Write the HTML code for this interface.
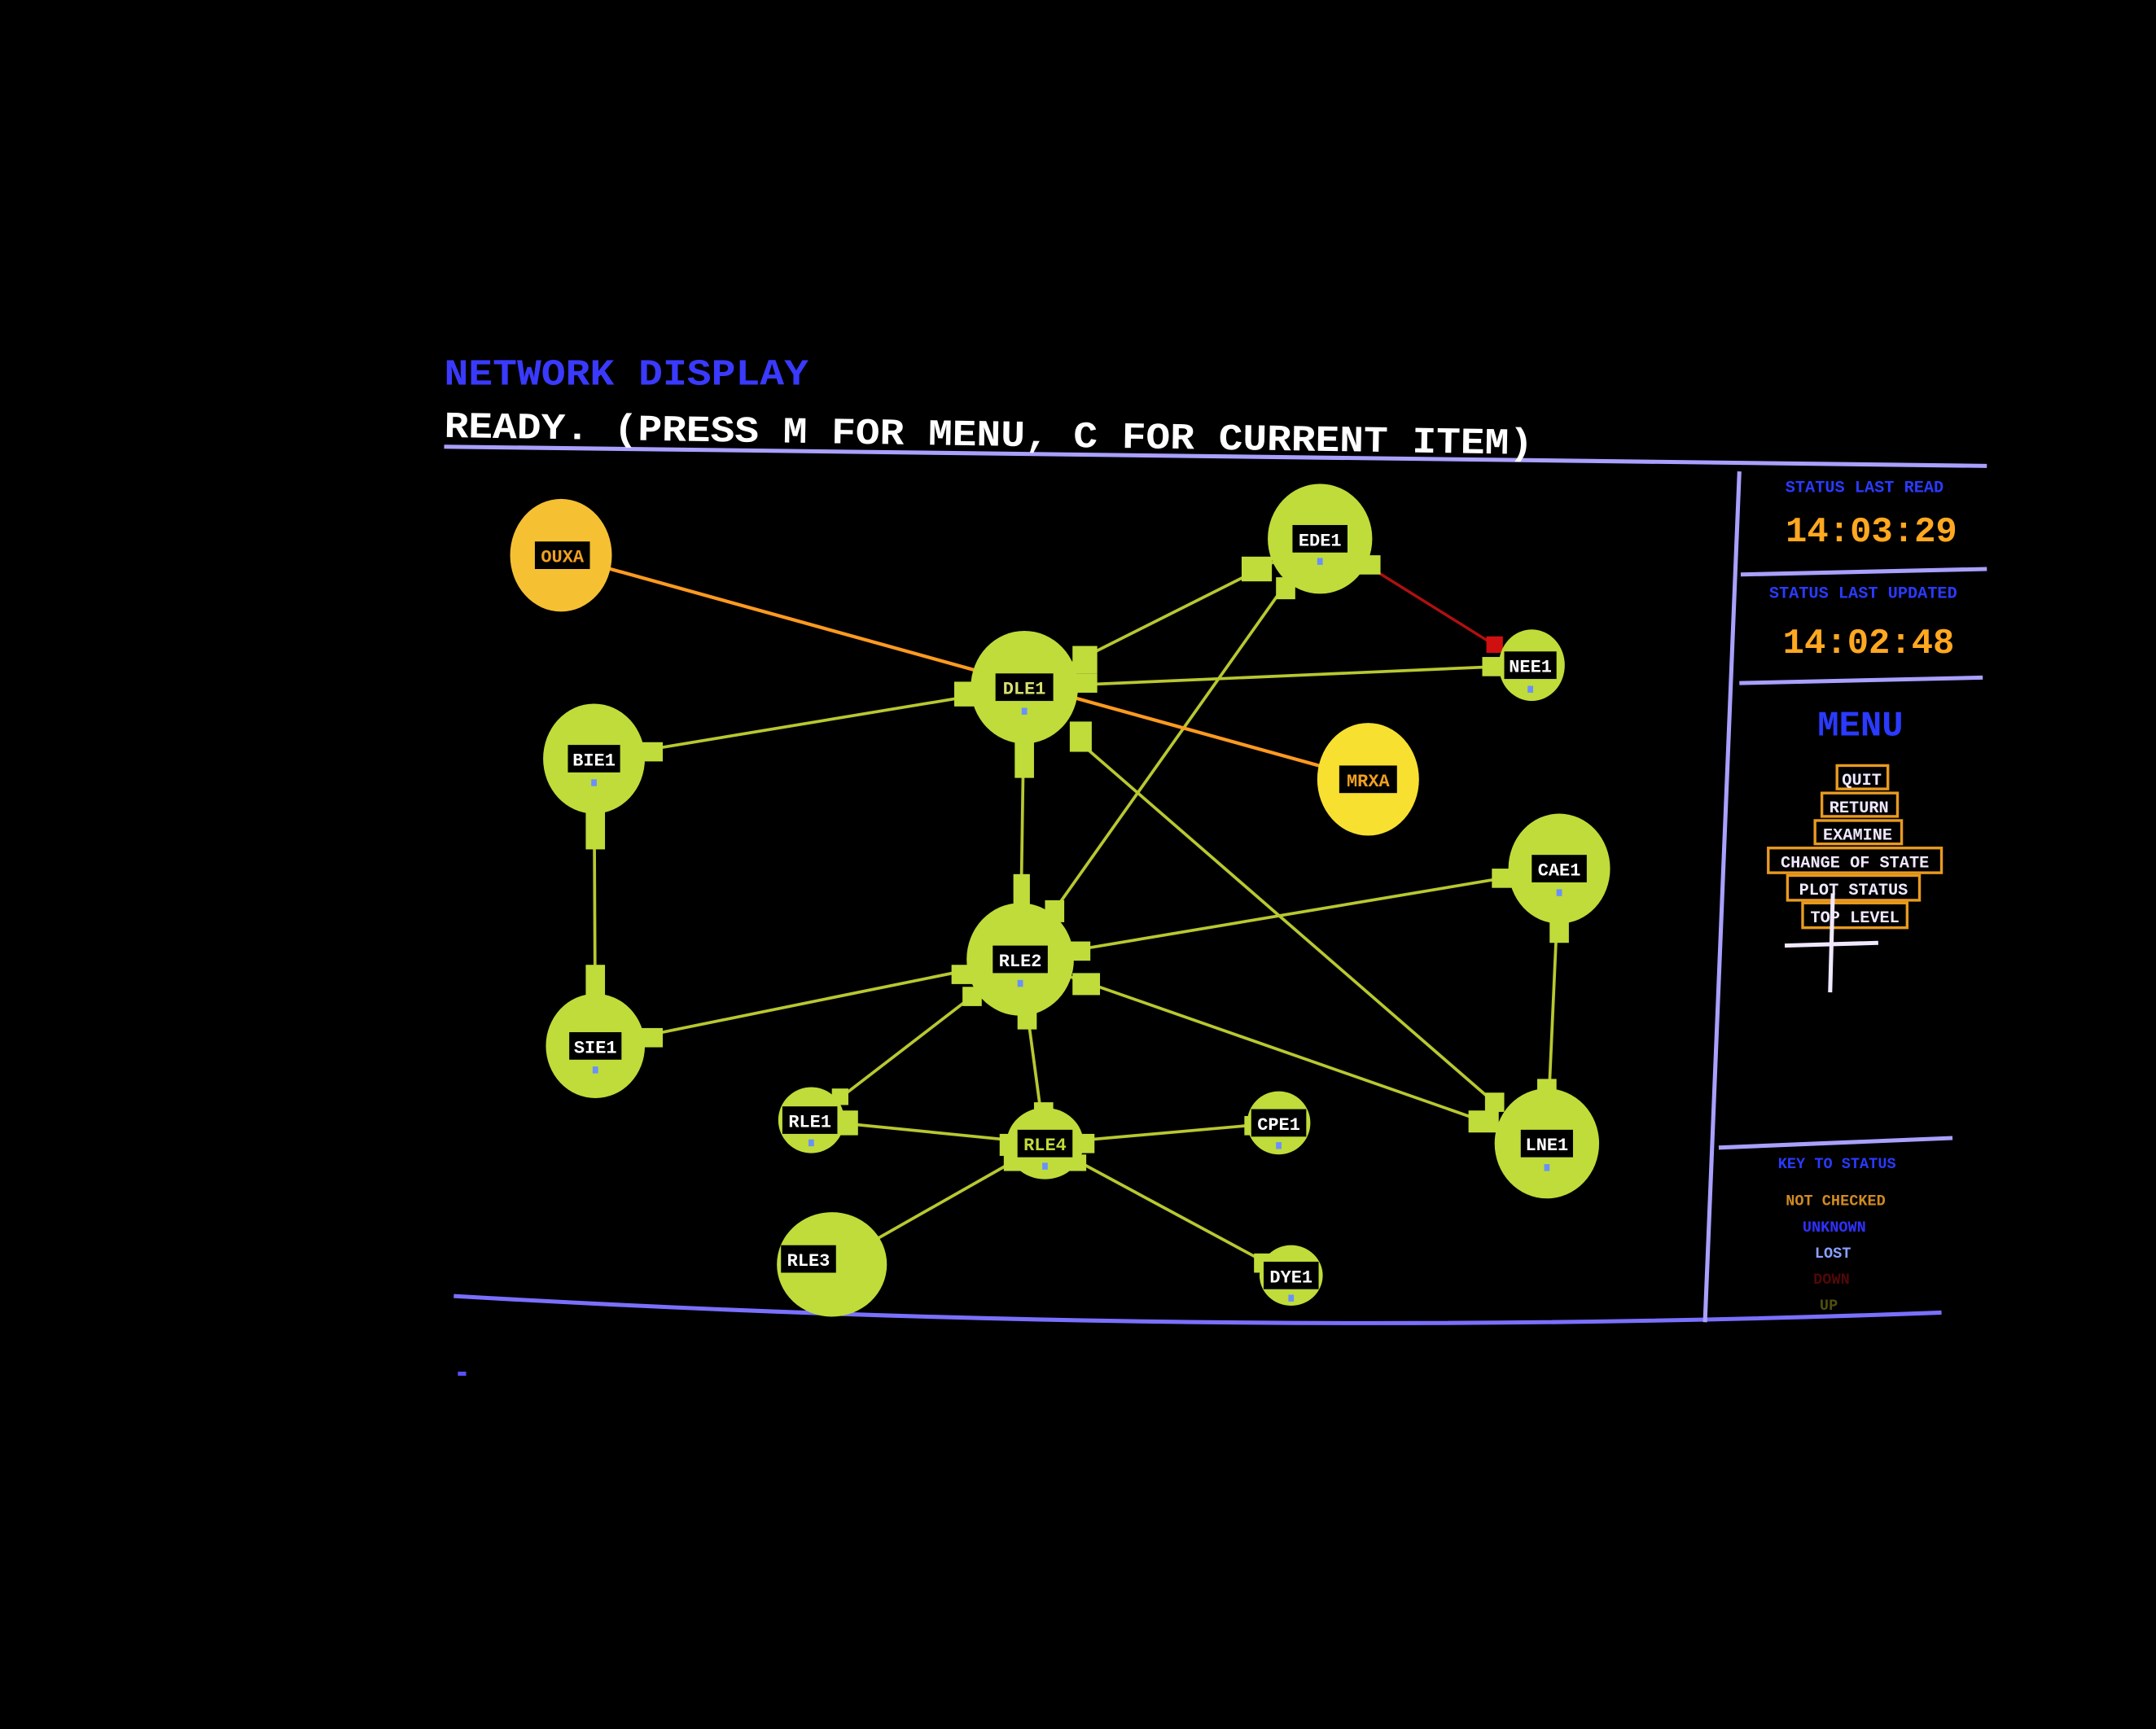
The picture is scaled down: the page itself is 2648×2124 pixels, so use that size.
<!DOCTYPE html>
<html><head><meta charset="utf-8"><style>
html,body{margin:0;padding:0;background:#000;}
svg{display:block}
text{font-family:"Liberation Mono","DejaVu Sans Mono",monospace;font-weight:bold}
</style></head><body>
<svg width="2648" height="2124" viewBox="0 0 1568 1258" preserveAspectRatio="none" xmlns="http://www.w3.org/2000/svg">
<rect width="1568" height="1258" fill="#000"/>
<!-- frame lines -->
<path d="M323,325 Q900,330 1445,339" stroke="#a9a0ff" stroke-width="3" fill="none"/>
<path d="M330,943 Q880,975 1412,955" stroke="#7a70ff" stroke-width="3" fill="none"/>
<path d="M1265,343 L1240,962" stroke="#a9a0ff" stroke-width="3"/>
<line x1="1266" y1="418" x2="1445" y2="414" stroke="#a9a0ff" stroke-width="3"/>
<line x1="1265" y1="497" x2="1442" y2="493" stroke="#a9a0ff" stroke-width="3"/>
<line x1="1250" y1="835" x2="1420" y2="828" stroke="#a9a0ff" stroke-width="3"/>
<rect x="333" y="998" width="6" height="3" fill="#5a50ff"/>
<!-- header text -->
<text x="323" y="280" font-size="27" fill="#3a3aff" textLength="265" lengthAdjust="spacingAndGlyphs" font-weight="normal">NETWORK DISPLAY</text>
<text x="323" y="318" font-size="27" fill="#fff" textLength="792" lengthAdjust="spacingAndGlyphs" transform="rotate(0.9 323 318)">READY. (PRESS M FOR MENU, C FOR CURRENT ITEM)</text>
<!-- edges -->
<g stroke="#b8c830" stroke-width="2.2" fill="none">
<line x1="745" y1="500" x2="960" y2="392"/>
<line x1="745" y1="500" x2="1112" y2="484"/>
<line x1="745" y1="500" x2="432" y2="552"/>
<line x1="745" y1="500" x2="742" y2="698"/>
<line x1="785" y1="540" x2="1090" y2="805"/>
<line x1="935" y1="425" x2="765" y2="665"/>
<line x1="432" y1="552" x2="433" y2="761"/>
<line x1="433" y1="761" x2="742" y2="698"/>
<line x1="742" y1="698" x2="1134" y2="632"/>
<line x1="742" y1="698" x2="1125" y2="832"/>
<line x1="1134" y1="632" x2="1125" y2="832"/>
<line x1="742" y1="698" x2="590" y2="815"/>
<line x1="742" y1="698" x2="760" y2="832"/>
<line x1="590" y1="815" x2="760" y2="832"/>
<line x1="760" y1="832" x2="930" y2="817"/>
<line x1="760" y1="832" x2="605" y2="920"/>
<line x1="760" y1="832" x2="938" y2="928"/>
</g>
<line x1="408" y1="404" x2="995" y2="567" stroke="#ff9a20" stroke-width="2.5"/>
<line x1="995" y1="412" x2="1088" y2="470" stroke="#b01010" stroke-width="2"/>
<rect x="1081" y="463" width="12" height="12" fill="#d01010"/>
<!-- nodes -->
<g fill="#bfdc3a">
<ellipse cx="960" cy="392" rx="38" ry="40"/>
<ellipse cx="745" cy="500" rx="39" ry="41"/>
<ellipse cx="1114" cy="484" rx="24" ry="26"/>
<ellipse cx="432" cy="552" rx="37" ry="40"/>
<ellipse cx="1134" cy="632" rx="37" ry="40"/>
<ellipse cx="742" cy="698" rx="39" ry="41"/>
<ellipse cx="433" cy="761" rx="36" ry="38"/>
<ellipse cx="590" cy="815" rx="24" ry="24"/>
<ellipse cx="760" cy="832" rx="28" ry="26"/>
<ellipse cx="930" cy="817" rx="23" ry="23"/>
<ellipse cx="1125" cy="832" rx="38" ry="40"/>
<ellipse cx="605" cy="920" rx="40" ry="38"/>
<ellipse cx="939" cy="928" rx="23" ry="22"/>
<!-- stubs -->
<rect x="903" y="405" width="22" height="18"/><rect x="928" y="420" width="14" height="16"/><rect x="988" y="404" width="16" height="14"/>
<rect x="780" y="470" width="18" height="20"/><rect x="780" y="490" width="18" height="14"/><rect x="694" y="496" width="16" height="18"/>
<rect x="778" y="525" width="16" height="22"/><rect x="738" y="538" width="14" height="28"/>
<rect x="1078" y="478" width="14" height="14"/>
<rect x="466" y="540" width="16" height="14"/><rect x="426" y="590" width="14" height="28"/>
<rect x="1085" y="632" width="16" height="14"/><rect x="1127" y="670" width="14" height="16"/>
<rect x="737" y="636" width="12" height="26"/><rect x="760" y="655" width="14" height="16"/>
<rect x="775" y="685" width="18" height="14"/><rect x="692" y="702" width="18" height="14"/><rect x="780" y="708" width="20" height="16"/>
<rect x="700" y="718" width="14" height="14"/><rect x="740" y="735" width="14" height="14"/>
<rect x="426" y="702" width="14" height="24"/><rect x="466" y="748" width="16" height="14"/>
<rect x="608" y="808" width="16" height="18"/><rect x="605" y="792" width="12" height="12"/>
<rect x="727" y="825" width="14" height="16"/><rect x="780" y="825" width="16" height="14"/><rect x="752" y="802" width="14" height="12"/><rect x="730" y="840" width="12" height="12"/><rect x="778" y="840" width="12" height="12"/>
<rect x="905" y="812" width="12" height="14"/>
<rect x="1068" y="808" width="22" height="16"/><rect x="1080" y="795" width="14" height="14"/><rect x="1118" y="785" width="14" height="14"/>
<rect x="912" y="912" width="14" height="14"/>
</g>
<ellipse cx="408" cy="404" rx="37" ry="41" fill="#f5c032"/>
<ellipse cx="995" cy="567" rx="37" ry="41" fill="#f7e030"/>
<!-- labels -->
<g font-size="13" text-anchor="middle">
<rect x="389" y="394" width="40" height="20" fill="#000"/><text x="409" y="409" fill="#f0a020">OUXA</text>
<rect x="974" y="557" width="42" height="20" fill="#000"/><text x="995" y="572" fill="#f0a020">MRXA</text>
<rect x="940" y="382" width="40" height="20" fill="#000"/><text x="960" y="397" fill="#fff">EDE1</text>
<rect x="724" y="490" width="42" height="20" fill="#000"/><text x="745" y="505" fill="#d8e070">DLE1</text>
<rect x="1094" y="474" width="38" height="20" fill="#000"/><text x="1113" y="489" fill="#fff">NEE1</text>
<rect x="413" y="542" width="38" height="20" fill="#000"/><text x="432" y="557" fill="#fff">BIE1</text>
<rect x="1114" y="622" width="40" height="20" fill="#000"/><text x="1134" y="637" fill="#fff">CAE1</text>
<rect x="722" y="688" width="40" height="20" fill="#000"/><text x="742" y="703" fill="#fff">RLE2</text>
<rect x="414" y="751" width="38" height="20" fill="#000"/><text x="433" y="766" fill="#fff">SIE1</text>
<rect x="569" y="805" width="40" height="20" fill="#000"/><text x="589" y="820" fill="#fff">RLE1</text>
<rect x="740" y="822" width="40" height="20" fill="#000"/><text x="760" y="837" fill="#bfdc3a">RLE4</text>
<rect x="910" y="807" width="40" height="20" fill="#000"/><text x="930" y="822" fill="#fff">CPE1</text>
<rect x="1106" y="822" width="38" height="20" fill="#000"/><text x="1125" y="837" fill="#fff">LNE1</text>
<rect x="568" y="906" width="40" height="20" fill="#000"/><text x="588" y="921" fill="#fff">RLE3</text>
<rect x="919" y="918" width="40" height="20" fill="#000"/><text x="939" y="933" fill="#fff">DYE1</text>
</g>
<g fill="#6a90ff">
<rect x="958" y="406" width="4" height="5"/><rect x="743" y="515" width="4" height="5"/><rect x="1111" y="499" width="4" height="5"/>
<rect x="430" y="567" width="4" height="5"/><rect x="1132" y="647" width="4" height="5"/><rect x="740" y="713" width="4" height="5"/>
<rect x="431" y="776" width="4" height="5"/><rect x="588" y="829" width="4" height="5"/><rect x="758" y="846" width="4" height="5"/>
<rect x="928" y="831" width="4" height="5"/><rect x="1123" y="847" width="4" height="5"/><rect x="937" y="942" width="4" height="5"/>
</g>
<!-- right panel -->
<g text-anchor="middle">
<text x="1356" y="358" font-size="12" fill="#2a3aff">STATUS LAST READ</text>
<text x="1361" y="394" font-size="26" fill="#ffa820">14:03:29</text>
<text x="1355" y="435" font-size="12" fill="#2a3aff">STATUS LAST UPDATED</text>
<text x="1359" y="475" font-size="26" fill="#ffa820">14:02:48</text>
<text x="1353" y="535" font-size="26" fill="#2a3aff" font-weight="normal">MENU</text>
</g>
<g fill="none" stroke="#e89a20" stroke-width="2">
<rect x="1255" y="556" width="0" height="0"/>
<rect x="1336" y="557" width="37" height="17"/>
<rect x="1325" y="577" width="55" height="17"/>
<rect x="1320" y="597" width="63" height="17"/>
<rect x="1286" y="617" width="126" height="18"/>
<rect x="1300" y="637" width="96" height="18"/>
<rect x="1311" y="657" width="76" height="18"/>
</g>
<g font-size="12" fill="#f0e8ff" text-anchor="middle">
<text x="1354" y="571">QUIT</text>
<text x="1352" y="591">RETURN</text>
<text x="1351" y="611">EXAMINE</text>
<text x="1349" y="631">CHANGE OF STATE</text>
<text x="1348" y="651">PLOT STATUS</text>
<text x="1349" y="671">TOP LEVEL</text>
</g>
<line x1="1298" y1="688" x2="1366" y2="686" stroke="#f0e8ff" stroke-width="3"/>
<line x1="1333" y1="650" x2="1331" y2="722" stroke="#f0e8ff" stroke-width="3"/>
<g font-size="11" text-anchor="middle">
<text x="1336" y="850" fill="#2a3aff">KEY TO STATUS</text>
<text x="1335" y="877" fill="#d08a20">NOT CHECKED</text>
<text x="1334" y="896" fill="#3030ff">UNKNOWN</text>
<text x="1333" y="915" fill="#8aa0ff">LOST</text>
<text x="1332" y="934" fill="#500808">DOWN</text>
<text x="1330" y="953" fill="#505010">UP</text>
</g>
</svg>
</body></html>
